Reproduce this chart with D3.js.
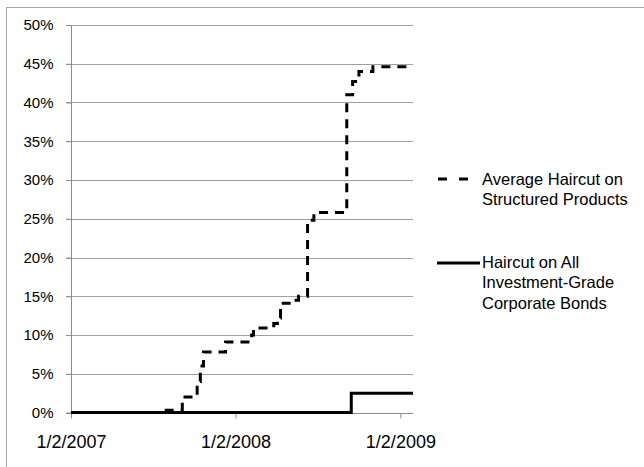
<!DOCTYPE html>
<html>
<head>
<meta charset="utf-8">
<script src="https://cdn.jsdelivr.net/npm/d3@7"></script>
<style>
  html, body { margin: 0; padding: 0; background: #fff; }
  svg { display: block; }
  text { font-family: "Liberation Sans", Arial, sans-serif; fill: #000; }
</style>
</head>
<body>
<svg id="chart" width="644" height="467"></svg>
<script>
// ---- Data ----
const structuredDates = ["2007-01-02","2007-07-26","2007-09-06","2007-10-09","2007-10-16","2007-10-23","2007-12-11","2008-02-07","2008-02-11","2008-03-27","2008-04-04","2008-04-11","2008-05-12","2008-05-21","2008-06-10","2008-06-24","2008-09-05","2008-09-18","2008-10-02","2008-11-02","2009-01-30"];
const structuredValues = [0, 0.3, 2.0, 4.0, 6.0, 7.8, 9.1, 10.0, 10.9, 11.5, 12.2, 14.1, 14.5, 15.0, 24.8, 25.8, 41.0, 42.7, 44.0, 44.6, 44.6];
const corporateDates = ["2007-01-02","2008-09-15","2009-01-30"];
const corporateValues = [0, 2.5, 2.5];
const yTicks = [0, 5, 10, 15, 20, 25, 30, 35, 40, 45, 50];
const xTickDates = ["2007-01-02","2008-01-02","2009-01-02"];
const xTickLabels = ["1/2/2007","1/2/2008","1/2/2009"];
const seriesNames = ["Average Haircut on|Structured Products", "Haircut on All|Investment-Grade|Corporate Bonds"];

(function () {
const parse = d3.utcParse("%Y-%m-%d");
const svg = d3.select("#chart");

// outer border
svg.append("rect").attr("x", 6.5).attr("y", 7.5).attr("width", 700).attr("height", 700)
  .attr("fill", "none").attr("stroke", "#a6a6a6").attr("stroke-width", 1);

const pl = 71, pr = 413, pt = 25, pb = 412.5;
const x = d3.scaleUtc().domain([parse("2007-01-02"), parse("2009-01-30")]).range([pl, pr]);
const y = d3.scaleLinear().domain([0, 50]).range([pb, pt]);

// gridlines
svg.append("g").selectAll("line").data(yTicks.filter(v => v > 0)).join("line")
  .attr("x1", pl - 5).attr("x2", pr)
  .attr("y1", d => Math.round(y(d)) + 0.5).attr("y2", d => Math.round(y(d)) + 0.5)
  .attr("stroke", "#a0a0a0").attr("stroke-width", 1);

// y axis
const yAxis = d3.axisLeft(y).tickValues(yTicks).tickSize(5).tickPadding(13).tickFormat(d => d + "%");
const gy = svg.append("g").attr("transform", `translate(${pl + 0.5},0)`).call(yAxis);
gy.select(".domain").attr("stroke", "#8c8c8c").attr("d", `M0,${pt}V${pb}`);
gy.selectAll(".tick line").attr("stroke", "#8c8c8c");
gy.selectAll(".tick text").attr("font-size", 15).attr("font-family", "Liberation Sans, Arial, sans-serif").attr("fill", "#000");

// x axis
const xAxis = d3.axisBottom(x).tickValues(xTickDates.map(parse)).tickSize(5).tickPadding(17)
  .tickFormat((d, i) => xTickLabels[i]);
const gx = svg.append("g").attr("transform", `translate(0,${Math.round(pb) + 0.5})`).call(xAxis);
gx.select(".domain").attr("stroke", "#8c8c8c").attr("d", `M${pl - 5},0H${pr}`);
gx.selectAll(".tick line").attr("stroke", "#8c8c8c");
gx.selectAll(".tick text").attr("font-size", 18).attr("font-family", "Liberation Sans, Arial, sans-serif").attr("fill", "#000");

// lines
const line = d3.line().x(d => x(d[0])).y(d => y(d[1])).curve(d3.curveStepAfter);
const corp = corporateDates.map((d, i) => [parse(d), corporateValues[i]]);
const struct = structuredDates.map((d, i) => [parse(d), structuredValues[i]]);

svg.append("path").datum(corp).attr("d", line)
  .attr("fill", "none").attr("stroke", "#000").attr("stroke-width", 3);
svg.append("path").datum(struct).attr("d", line)
  .attr("fill", "none").attr("stroke", "#000").attr("stroke-width", 3)
  .attr("stroke-dasharray", "9,7");

// legend
const lg = svg.append("g");
lg.append("line").attr("x1", 438).attr("x2", 468).attr("y1", 179).attr("y2", 179)
  .attr("stroke", "#000").attr("stroke-width", 3).attr("stroke-dasharray", "9,12");
lg.append("line").attr("x1", 437).attr("x2", 480).attr("y1", 263).attr("y2", 263)
  .attr("stroke", "#000").attr("stroke-width", 3);
const legendY = [179, 262];
seriesNames.forEach((name, k) => {
  name.split("|").forEach((t, j) => {
    lg.append("text").attr("x", 482).attr("y", legendY[k] + j * 20.5)
      .attr("dy", "0.36em").attr("font-size", 16.5).text(t);
  });
});
})();
</script>
</body>
</html>
